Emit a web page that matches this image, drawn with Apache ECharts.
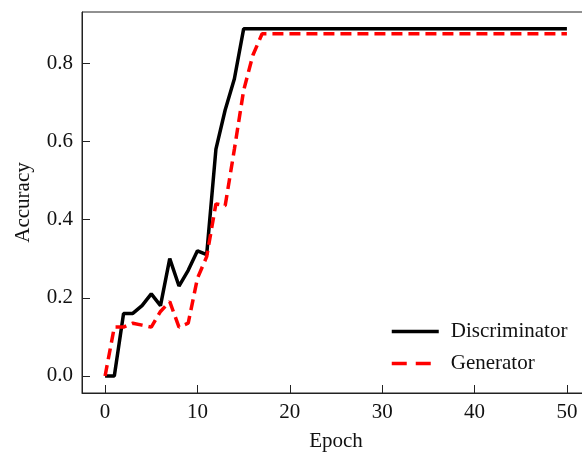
<!DOCTYPE html>
<html>
<head>
<meta charset="utf-8">
<script src="https://cdn.jsdelivr.net/npm/echarts@6/dist/echarts.min.js"></script>
<style>
  html, body { margin: 0; padding: 0; background: #fff; }
  #chart { width: 582px; height: 455px; }
</style>
</head>
<body>
<div id="chart"></div>
<script>
// epochs 0..50
const epochs = [0, 1, 2, 3, 4, 5, 6, 7, 8, 9, 10, 11, 12, 13, 14, 15, 16, 17, 18, 19,
  20, 21, 22, 23, 24, 25, 26, 27, 28, 29, 30, 31, 32, 33, 34, 35, 36, 37, 38, 39,
  40, 41, 42, 43, 44, 45, 46, 47, 48, 49, 50]
const discriminator = [0, 0, 0.16, 0.16, 0.18, 0.21, 0.18, 0.30, 0.23, 0.27, 0.32, 0.31, 0.58, 0.68, 0.76, 0.8875, 0.8875, 0.8875, 0.8875, 0.8875,
  0.8875, 0.8875, 0.8875, 0.8875, 0.8875, 0.8875, 0.8875, 0.8875, 0.8875, 0.8875, 0.8875, 0.8875, 0.8875, 0.8875, 0.8875, 0.8875, 0.8875, 0.8875, 0.8875, 0.8875,
  0.8875, 0.8875, 0.8875, 0.8875, 0.8875, 0.8875, 0.8875, 0.8875, 0.8875, 0.8875, 0.8875]
const generator = [0, 0.125, 0.125, 0.135, 0.13, 0.125, 0.165, 0.19, 0.125, 0.135, 0.25, 0.305, 0.44, 0.435, 0.58, 0.73, 0.82, 0.875, 0.875, 0.875,
  0.875, 0.875, 0.875, 0.875, 0.875, 0.875, 0.875, 0.875, 0.875, 0.875, 0.875, 0.875, 0.875, 0.875, 0.875, 0.875, 0.875, 0.875, 0.875, 0.875,
  0.875, 0.875, 0.875, 0.875, 0.875, 0.875, 0.875, 0.875, 0.875, 0.875, 0.875]
const xTicks = [0, 10, 20, 30, 40, 50]
const yTicks = [0, 0.2, 0.4, 0.6, 0.8]

const font = 'Liberation Serif'
const textColor = '#111'

const chart = echarts.init(document.getElementById('chart'))
const option = {
  animation: false,
  textStyle: { fontFamily: font },
  grid: {
    left: 82,
    right: -8, // 右边框在画布外
    top: 12,
    bottom: 62,
    outerBoundsMode: 'none',
    show: true,
    borderColor: '#222',
    borderWidth: 1
  },
  legend: {
    orient: 'vertical',
    left: 385,
    top: 316,
    itemWidth: 47,
    itemHeight: 14,
    itemGap: 11,
    align: 'left',
    itemStyle: { opacity: 0 }, // 只显示线, 不要圆点
    lineStyle: { width: 3.5 },
    textStyle: {
      fontFamily: font,
      fontSize: 21,
      color: textColor,
      padding: [0, 0, 0, 7]
    },
    data: [
      { name: 'Discriminator', lineStyle: { width: 3.5, color: '#000' } },
      { name: 'Generator', lineStyle: { width: 3.5, color: '#ff0000', type: [15, 9] } }
    ]
  },
  xAxis: {
    type: 'value',
    min: -2.5,
    max: 52.5,
    name: 'Epoch',
    nameLocation: 'middle',
    nameGap: 38,
    nameTextStyle: { fontFamily: font, fontSize: 21, color: textColor },
    splitLine: { show: false },
    axisLine: { show: true, onZero: false, lineStyle: { color: '#222', width: 1 } },
    axisTick: {
      show: true,
      inside: true,
      length: 8,
      customValues: xTicks,
      lineStyle: { color: '#222' }
    },
    axisLabel: {
      customValues: xTicks,
      margin: 9,
      fontFamily: font,
      fontSize: 21,
      color: textColor
    }
  },
  yAxis: {
    type: 'value',
    min: -0.0435,
    max: 0.9305,
    name: 'Accuracy',
    nameLocation: 'middle',
    nameGap: 48,
    nameTextStyle: { fontFamily: font, fontSize: 21, color: textColor },
    splitLine: { show: false },
    axisLine: { show: true, onZero: false, lineStyle: { color: '#222', width: 1 } },
    axisTick: {
      show: true,
      inside: true,
      length: 8,
      customValues: yTicks,
      lineStyle: { color: '#222' }
    },
    axisLabel: {
      customValues: yTicks,
      margin: 9,
      padding: [4, 0, 0, 0],
      fontFamily: font,
      fontSize: 21,
      color: textColor,
      formatter: v => v.toFixed(1)
    }
  },
  series: [
    {
      name: 'Discriminator',
      type: 'line',
      symbol: 'none',
      data: epochs.map((e, i) => [e, discriminator[i]]),
      lineStyle: { color: '#000', width: 3.5 },
      itemStyle: { color: '#000' },
      z: 3
    },
    {
      name: 'Generator',
      type: 'line',
      symbol: 'none',
      data: epochs.map((e, i) => [e, generator[i]]),
      lineStyle: { color: '#ff0000', width: 3.5, type: [11, 6] },
      itemStyle: { color: '#ff0000' },
      z: 4
    }
  ]
}
chart.setOption(option)
window.addEventListener('resize', () => chart.resize())
</script>
</body>
</html>
